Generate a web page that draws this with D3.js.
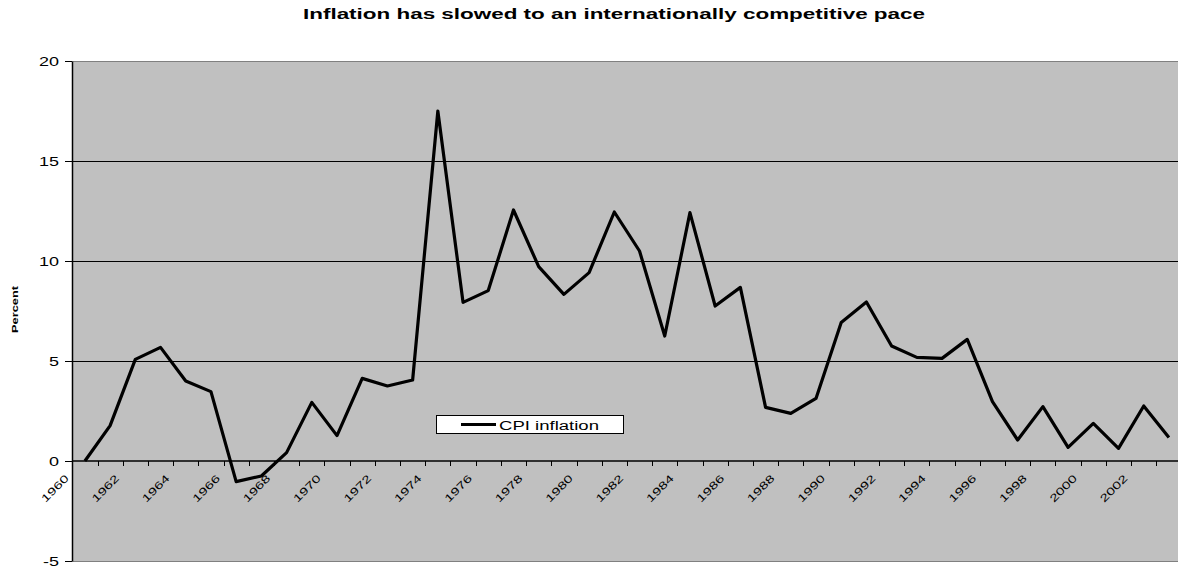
<!DOCTYPE html>
<html>
<head>
<meta charset="utf-8">
<script src="https://cdn.jsdelivr.net/npm/d3@7"></script>
<style>
  html, body { margin: 0; padding: 0; background: #ffffff; }
  svg { display: block; font-family: "Liberation Sans", Arial, sans-serif; }
</style>
</head>
<body>
<svg id="chart" width="1178" height="567"></svg>
<script>
const titleText = "Inflation has slowed to an internationally competitive pace";
const yAxisTitle = "Percent";
const seriesName = "CPI inflation";
const years = [1960,1961,1962,1963,1964,1965,1966,1967,1968,1969,1970,1971,1972,1973,1974,1975,1976,1977,1978,1979,1980,1981,1982,1983,1984,1985,1986,1987,1988,1989,1990,1991,1992,1993,1994,1995,1996,1997,1998,1999,2000,2001,2002,2003];
const cpi = [0,1.77,5.08,5.68,4.0,3.47,-1.03,-0.75,0.42,2.93,1.27,4.13,3.75,4.05,17.5,7.93,8.52,12.55,9.72,8.33,9.42,12.45,10.5,6.25,12.42,7.75,8.68,2.68,2.38,3.13,6.92,7.95,5.75,5.18,5.13,6.08,2.97,1.05,2.72,0.68,1.88,0.63,2.75,1.17];
const xTickLabels = [1960,1962,1964,1966,1968,1970,1972,1974,1976,1978,1980,1982,1984,1986,1988,1990,1992,1994,1996,1998,2000,2002];
const yTicks = [-5,0,5,10,15,20];

(function () {
const svg = d3.select("#chart");
const pLeft = 72.3, pTop = 61, pBottom = 561, W = 1178;
const x = d3.scaleBand().domain(years).range([pLeft, pLeft + years.length * 25.21]).padding(0);
const y = d3.scaleLinear().domain([-5, 20]).range([pBottom, pTop]);
const cx = d => x(d) + x.bandwidth() / 2;
const crisp = v => Math.round(v) + 0.5;

// plot area
svg.append("rect").attr("x", pLeft).attr("y", pTop)
  .attr("width", W - pLeft).attr("height", pBottom - pTop)
  .attr("fill", "#c0c0c0");

// gridlines
svg.append("g").selectAll("line").data([5, 10, 15]).join("line")
  .attr("x1", pLeft).attr("x2", W)
  .attr("y1", d => crisp(y(d))).attr("y2", d => crisp(y(d)))
  .attr("stroke", "#000").attr("stroke-width", 1);

// top / bottom borders
svg.append("line").attr("x1", pLeft).attr("x2", W).attr("y1", crisp(y(20))).attr("y2", crisp(y(20)))
  .attr("stroke", "#808080").attr("stroke-width", 1);
svg.append("line").attr("x1", pLeft).attr("x2", W).attr("y1", crisp(y(-5))).attr("y2", crisp(y(-5)))
  .attr("stroke", "#808080").attr("stroke-width", 1);

// y axis
const yAxis = svg.append("g").attr("transform", `translate(${Math.round(pLeft)},0)`)
  .call(d3.axisLeft(y).tickValues(yTicks).tickSize(7).tickSizeOuter(0).tickFormat(d3.format("d")));
yAxis.select(".domain").attr("stroke", "#000").attr("stroke-width", 1.5);
yAxis.selectAll(".tick line").attr("stroke", "#000").attr("stroke-width", 1);
yAxis.selectAll(".tick text").each(function(d) {
  d3.select(this).attr("x", null).attr("dy", null).attr("text-anchor", "end")
   .attr("font-size", 12).attr("fill", "#000")
   .attr("transform", `translate(-13,4.3) scale(1.5,1)`)
   .text(d < 0 ? "-" + Math.abs(d) : d);
});

// x axis at zero
const xAxisG = svg.append("g");
xAxisG.append("line").attr("x1", pLeft).attr("x2", W).attr("y1", y(0)).attr("y2", y(0))
  .attr("stroke", "#000").attr("stroke-width", 1.5);
xAxisG.selectAll("line.tk").data(years.slice(1)).join("line").attr("class", "tk")
  .attr("x1", d => crisp(x(d))).attr("x2", d => crisp(x(d)))
  .attr("y1", y(0)).attr("y2", y(0) + 5)
  .attr("stroke", "#000").attr("stroke-width", 1);
xAxisG.selectAll("text.xl").data(xTickLabels).join("text").attr("class", "xl")
  .attr("text-anchor", "end").attr("font-size", 10.5).attr("fill", "#000")
  .attr("transform", d => `translate(${cx(d) - 15.5},${y(0) + 18}) rotate(-45) scale(1.45,1)`)
  .text(d => String(d));

// series line
const line = d3.line().x((d, i) => cx(years[i])).y(d => y(d));
svg.append("path").datum(cpi).attr("d", line)
  .attr("fill", "none").attr("stroke", "#000").attr("stroke-width", 3.2)
  .attr("stroke-linejoin", "round");

// legend
const lg = svg.append("g");
lg.append("rect").attr("x", 436.5).attr("y", 415.5).attr("width", 187).attr("height", 18)
  .attr("fill", "#fff").attr("stroke", "#000").attr("stroke-width", 1);
lg.append("line").attr("x1", 461).attr("x2", 496).attr("y1", 424.5).attr("y2", 424.5)
  .attr("stroke", "#000").attr("stroke-width", 3);
lg.append("text").attr("x", 499).attr("y", 429.5).attr("font-size", 12.5).attr("fill", "#000")
  .attr("textLength", 100).attr("lengthAdjust", "spacingAndGlyphs").text(seriesName);

// title
svg.append("text").attr("x", 303).attr("y", 19).attr("font-size", 14.5).attr("font-weight", "bold")
  .attr("fill", "#000").attr("textLength", 622).attr("lengthAdjust", "spacingAndGlyphs").text(titleText);

// y axis title
svg.append("text").attr("transform", "translate(17.5,333) rotate(-90)")
  .attr("font-size", 9.5).attr("font-weight", "bold").attr("fill", "#000")
  .attr("textLength", 47).attr("lengthAdjust", "spacingAndGlyphs").text(yAxisTitle);
})();
</script>
</body>
</html>
